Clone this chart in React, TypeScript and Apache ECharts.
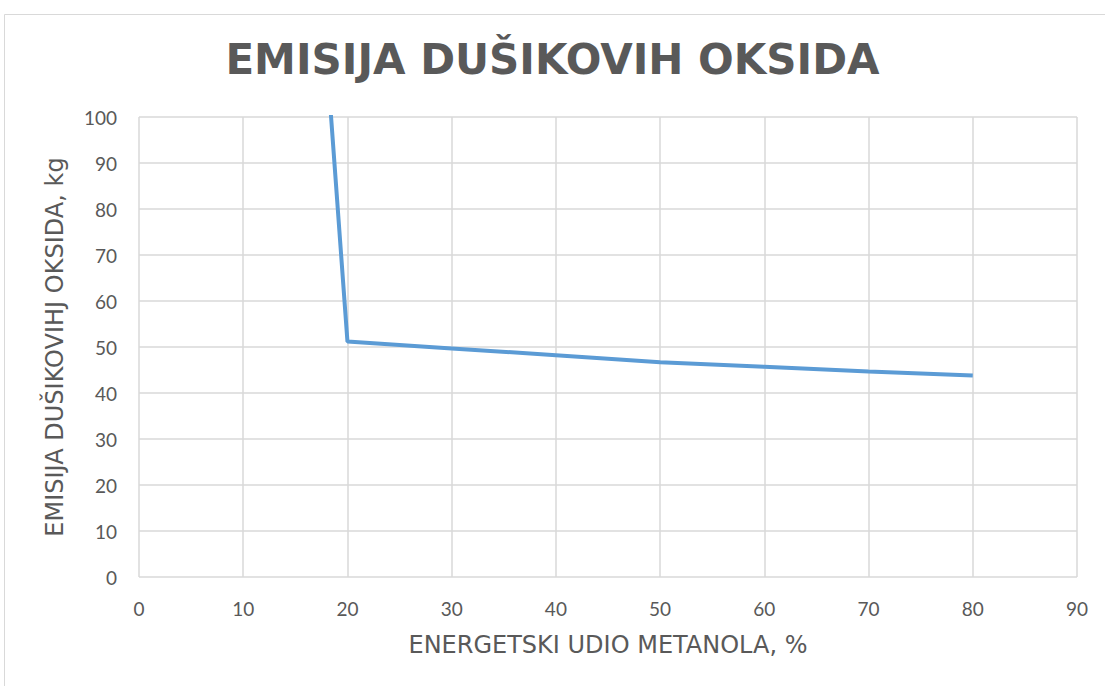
import React, { useEffect, useRef } from "react";
import * as echarts from "echarts";

const xValues = [10, 20, 30, 40, 50, 60, 70, 80];
const noxValues = [362, 51.2, 49.7, 48.2, 46.7, 45.7, 44.7, 43.8];
const titleText = "EMISIJA DUŠIKOVIH OKSIDA";
const xAxisName = "ENERGETSKI UDIO METANOLA, %";
const yAxisName = "EMISIJA DUŠIKOVIHJ OKSIDA, kg";

export default function App() {
  const ref = useRef<HTMLDivElement>(null);
  useEffect(() => {
    if (!ref.current) return;
    const chart = echarts.init(ref.current, undefined, { renderer: "svg" });
    const txt = "#595959";
    const nameFont = "DejaVu Sans, Liberation Sans, Arial, sans-serif";
    const tickFont = "Lato, Liberation Sans, Arial, sans-serif";
    chart.setOption({
      animation: false,
      backgroundColor: "#ffffff",
      textStyle: { fontFamily: nameFont },
      title: {
        text: titleText,
        left: "center",
        top: 38,
        padding: [0, 0, 0, 20],
        textStyle: {
          color: txt,
          fontSize: 42,
          fontWeight: "bold",
          fontFamily: nameFont,
        },
      },
      graphic: [
        {
          type: "rect",
          shape: { x: 4.5, y: 14.5, width: 1200, height: 800 },
          style: { fill: "none", stroke: "#d9d9d9", lineWidth: 1 },
          silent: true,
        },
      ],
      grid: { left: 139, top: 117, width: 938, height: 460, containLabel: false },
      xAxis: {
        type: "value",
        min: 0,
        max: 90,
        interval: 10,
        name: xAxisName,
        nameLocation: "middle",
        nameGap: 56,
        nameTextStyle: { color: txt, fontSize: 24, fontFamily: nameFont },
        axisLine: { show: false },
        axisTick: { show: false },
        axisLabel: { color: txt, fontSize: 19, margin: 22, fontFamily: tickFont },
        splitLine: { show: true, lineStyle: { color: "#d9d9d9", width: 1.5 } },
      },
      yAxis: {
        type: "value",
        min: 0,
        max: 100,
        interval: 10,
        name: yAxisName,
        nameLocation: "middle",
        nameGap: 72,
        nameTextStyle: { color: txt, fontSize: 24, fontFamily: nameFont },
        axisLine: { show: false },
        axisTick: { show: false },
        axisLabel: { color: txt, fontSize: 19, margin: 22, fontFamily: tickFont },
        splitLine: { show: true, lineStyle: { color: "#d9d9d9", width: 1.5 } },
      },
      series: [
        {
          type: "line",
          data: xValues.map((x, i) => [x, noxValues[i]]),
          showSymbol: false,
          symbol: "none",
          clip: true,
          lineStyle: { color: "#5b9bd5", width: 4 },
        },
      ],
    });
    return () => chart.dispose();
  }, []);
  return (
    <div
      ref={ref}
      style={{ position: "fixed", left: 0, top: 0, width: 1105, height: 686 }}
    />
  );
}
